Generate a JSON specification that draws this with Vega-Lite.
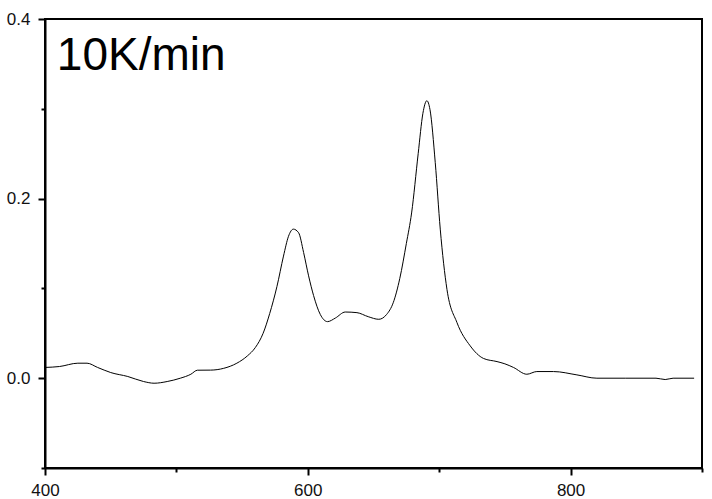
{
  "$schema": "https://vega.github.io/schema/vega-lite/v6.json",
  "autosize": {"type": "none"},
  "width": 657,
  "height": 449,
  "padding": {"left": 45, "top": 19, "right": 10, "bottom": 31},
  "background": "white",
  "config": {
    "view": {"stroke": "black", "strokeWidth": 2},
    "font": "Liberation Sans"
  },
  "datasets": {
    "curve": [
      {"x": 400, "y": 0.012}, {"x": 411, "y": 0.013}, {"x": 425, "y": 0.0167}, {"x": 432, "y": 0.0167},
      {"x": 440, "y": 0.012}, {"x": 450, "y": 0.0063}, {"x": 463, "y": 0.0019}, {"x": 475, "y": -0.0037},
      {"x": 483, "y": -0.0056}, {"x": 493, "y": -0.0037}, {"x": 503, "y": 0.0}, {"x": 511, "y": 0.0044},
      {"x": 516, "y": 0.0089}, {"x": 526, "y": 0.009}, {"x": 536, "y": 0.011}, {"x": 546, "y": 0.0167},
      {"x": 554, "y": 0.0248}, {"x": 560, "y": 0.034}, {"x": 566, "y": 0.05}, {"x": 571, "y": 0.072},
      {"x": 576.5, "y": 0.102}, {"x": 581.5, "y": 0.136}, {"x": 585.3, "y": 0.158}, {"x": 589, "y": 0.166},
      {"x": 593, "y": 0.162}, {"x": 596.8, "y": 0.14}, {"x": 600.6, "y": 0.114}, {"x": 604.4, "y": 0.092},
      {"x": 609.5, "y": 0.071}, {"x": 615, "y": 0.063}, {"x": 621, "y": 0.067}, {"x": 628.5, "y": 0.0737},
      {"x": 637.4, "y": 0.073}, {"x": 646, "y": 0.0685}, {"x": 654, "y": 0.0656}, {"x": 660, "y": 0.071},
      {"x": 665, "y": 0.084}, {"x": 670, "y": 0.111}, {"x": 675, "y": 0.15}, {"x": 679, "y": 0.184},
      {"x": 684, "y": 0.25}, {"x": 687.6, "y": 0.295}, {"x": 690.6, "y": 0.309}, {"x": 693, "y": 0.299},
      {"x": 697, "y": 0.24}, {"x": 700.8, "y": 0.166}, {"x": 705.9, "y": 0.099}, {"x": 713.5, "y": 0.062},
      {"x": 723.6, "y": 0.036}, {"x": 733.7, "y": 0.022}, {"x": 744, "y": 0.0185}, {"x": 750, "y": 0.016},
      {"x": 756.5, "y": 0.012}, {"x": 766.7, "y": 0.0044}, {"x": 774.3, "y": 0.0074}, {"x": 787, "y": 0.0074},
      {"x": 804.8, "y": 0.0037}, {"x": 820, "y": 0.0}, {"x": 842, "y": 0.0}, {"x": 865, "y": 0.0},
      {"x": 872, "y": -0.0015}, {"x": 878, "y": 0.0}, {"x": 894, "y": 0.0}
    ],
    "label": [{"x": 409, "y": 0.343, "text": "10K/min"}]
  },
  "layer": [
    {
      "data": {"name": "curve"},
      "mark": {"type": "line", "color": "black", "strokeWidth": 1, "interpolate": "monotone", "clip": true},
      "encoding": {
        "x": {
          "field": "x", "type": "quantitative",
          "scale": {"domain": [400, 900], "nice": false, "zero": false},
          "axis": {
            "title": null, "grid": false, "labelFlush": false, "labelOverlap": false,
            "values": [400, 500, 600, 700, 800, 900],
            "labelExpr": "datum.value % 200 === 0 ? format(datum.value, 'd') : ''",
            "domainColor": "black", "domainWidth": 2,
            "tickColor": "black", "tickWidth": 2,
            "tickSize": {"condition": {"test": "datum.value % 200 === 0", "value": 7}, "value": 4},
            "labelFontSize": 17, "labelColor": "#111", "labelPadding": 7,
            "labelFont": "Liberation Sans"
          }
        },
        "y": {
          "field": "y", "type": "quantitative",
          "scale": {"domain": [-0.1, 0.4], "nice": false, "zero": false},
          "axis": {
            "title": null, "grid": false, "labelFlush": false, "labelOverlap": false,
            "values": [-0.1, 0, 0.1, 0.2, 0.3, 0.4],
            "labelExpr": "(abs(datum.value*10) % 2 < 0.01) && datum.value > -0.05 ? format(datum.value, '.1f') : ''",
            "domainColor": "black", "domainWidth": 2,
            "tickColor": "black", "tickWidth": 2,
            "tickSize": {"condition": {"test": "(abs(datum.value*10) % 2 < 0.01) && datum.value > -0.05", "value": 7}, "value": 4},
            "labelFontSize": 17, "labelColor": "#111", "labelPadding": 8,
            "labelFont": "Liberation Sans"
          }
        }
      }
    },
    {
      "data": {"name": "label"},
      "mark": {"type": "text", "align": "left", "baseline": "alphabetic", "fontSize": 46, "font": "Liberation Sans", "color": "black"},
      "encoding": {
        "x": {"field": "x", "type": "quantitative"},
        "y": {"field": "y", "type": "quantitative"},
        "text": {"field": "text"}
      }
    }
  ]
}
